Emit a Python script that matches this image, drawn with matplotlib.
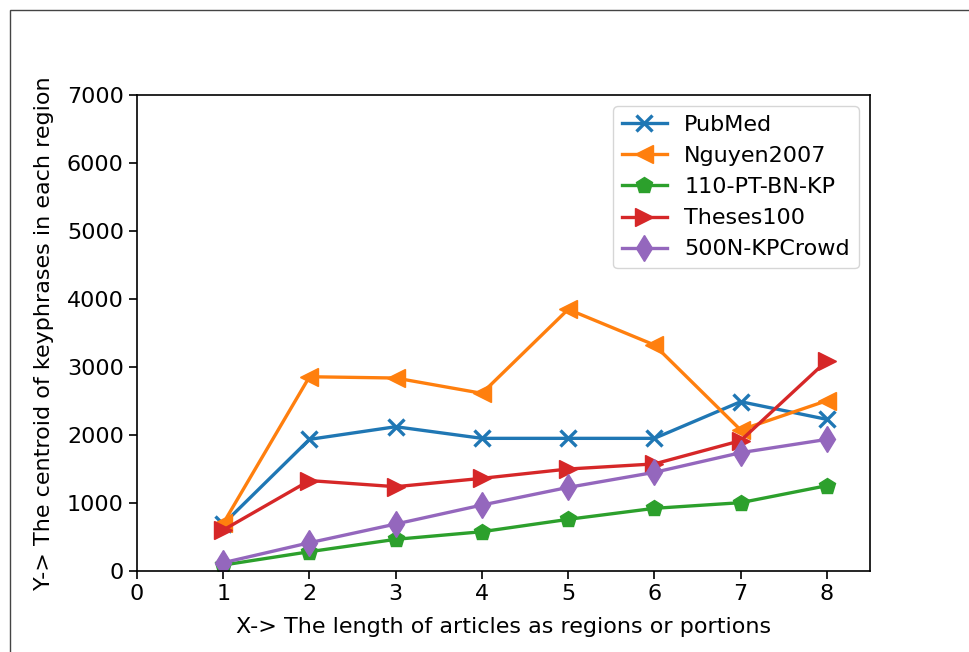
import matplotlib
matplotlib.use("Agg")
import matplotlib.pyplot as plt
from matplotlib.patches import Rectangle

regions = [1, 2, 3, 4, 5, 6, 7, 8]
pubmed = [690, 1936, 2122, 1951, 1951, 1951, 2490, 2230]
nguyen2007 = [700, 2857, 2838, 2613, 3848, 3324, 2074, 2505]
pt_bn_kp = [88, 284, 466, 578, 760, 922, 1005, 1255]
theses100 = [603, 1330, 1240, 1363, 1500, 1575, 1917, 3093]
kpcrowd = [122, 416, 691, 970, 1230, 1451, 1740, 1936]

series = [
    ("PubMed", pubmed, "x", "#1f77b4"),
    ("Nguyen2007", nguyen2007, "<", "#ff7f0e"),
    ("110-PT-BN-KP", pt_bn_kp, "p", "#2ca02c"),
    ("Theses100", theses100, ">", "#d62728"),
    ("500N-KPCrowd", kpcrowd, "d", "#9467bd"),
]

plt.rcParams["font.family"] = "DejaVu Sans"
fs = 16

fig = plt.figure(figsize=(9.69, 6.52), dpi=100)
ax = fig.add_axes([0.1414, 0.1242, 0.7564, 0.7301])

for name, vals, mk, col in series:
    ms = 13 if mk in ("<", ">", "d") else 12
    mew = 2.4 if mk == "x" else 1
    ax.plot(regions, vals, marker=mk, color=col, label=name, linewidth=2.4,
            markersize=ms, markeredgewidth=mew)

ax.set_xlim(0, 8.5)
ax.set_ylim(0, 7000)
ax.set_xticks(range(0, 9))
ax.set_yticks(range(0, 7001, 1000))
ax.tick_params(labelsize=fs, width=1.2, length=6)
for s in ax.spines.values():
    s.set_linewidth(1.2)
ax.set_xlabel("X-> The length of articles as regions or portions", fontsize=fs, labelpad=9)
ax.set_ylabel("Y-> The centroid of keyphrases in each region", fontsize=fs, labelpad=9)
ax.legend(loc="upper right", fontsize=fs, handlelength=2.0)

# outer frame
fig.patches.append(Rectangle((10 / 969, -0.1), 1.2, (652 - 10) / 652 + 0.1,
                             transform=fig.transFigure, fill=False,
                             edgecolor="#444444", linewidth=1.0))

fig.savefig("out.png", dpi=100)
